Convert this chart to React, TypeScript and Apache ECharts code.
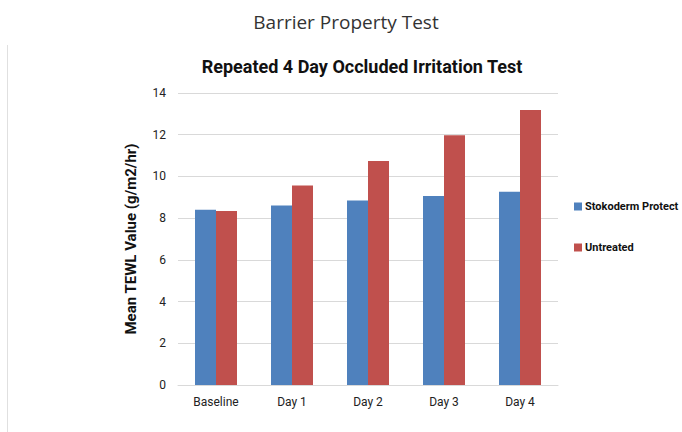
import React, { useEffect, useRef } from "react";
import * as echarts from "echarts";

const categories = ["Baseline", "Day 1", "Day 2", "Day 3", "Day 4"];
const stokoderm = [8.4, 8.61, 8.85, 9.06, 9.27];
const untreated = [8.34, 9.57, 10.74, 11.97, 13.19];
const seriesNames = ["Stokoderm Protect", "Untreated"];

const FONT = "Roboto";

export default function App() {
  const ref = useRef<HTMLDivElement>(null);
  useEffect(() => {
    if (!ref.current) return;
    const chart = echarts.init(ref.current, null, { renderer: "svg" });
    chart.setOption({
      animation: false,
      backgroundColor: "#ffffff",
      title: [
        {
          text: "Barrier Property Test",
          left: 341,
          top: 7,
          textAlign: "center",
          textStyle: { fontFamily: "Open Sans", fontSize: 19, fontWeight: "normal", color: "#333" },
        },
        {
          text: "Repeated 4 Day Occluded Irritation Test",
          left: 357,
          top: 52,
          textAlign: "center",
          textStyle: { fontFamily: FONT, fontSize: 18, fontWeight: "bold", color: "#111" },
        },
      ],
      graphic: [
        {
          type: "line",
          shape: { x1: 7.5, y1: 45, x2: 7.5, y2: 432 },
          style: { stroke: "#e0e0e0", lineWidth: 1 },
        },
      ],
      legend: {
        orient: "vertical",
        left: 569,
        top: 196,
        itemWidth: 8,
        itemHeight: 8,
        itemGap: 30,
        icon: "rect",
        textStyle: { fontFamily: FONT, fontSize: 11, fontWeight: "bold", color: "#111", padding: [0, 0, 0, -2] },
        data: seriesNames,
      },
      grid: { left: 178, right: 124, top: 93, bottom: 47 },
      xAxis: {
        type: "category",
        data: categories,
        axisLine: { lineStyle: { color: "#d9d9d9" } },
        axisTick: { show: false },
        axisLabel: { fontFamily: FONT, fontSize: 12, color: "#222", margin: 11 },
      },
      yAxis: {
        type: "value",
        min: 0,
        max: 14,
        interval: 2,
        name: "Mean TEWL Value (g/m2/hr)",
        nameLocation: "middle",
        nameGap: 40,
        nameTextStyle: { fontFamily: FONT, fontSize: 15, fontWeight: "bold", color: "#111" },
        axisLine: { show: false },
        axisTick: { show: false },
        splitLine: { lineStyle: { color: "#d9d9d9" } },
        axisLabel: { fontFamily: FONT, fontSize: 12, color: "#222", margin: 12 },
      },
      series: [
        {
          name: seriesNames[0],
          type: "bar",
          data: stokoderm,
          barWidth: 21,
          barGap: "0%",
          itemStyle: { color: "#4F81BD" },
        },
        {
          name: seriesNames[1],
          type: "bar",
          data: untreated,
          barWidth: 21,
          barGap: "0%",
          itemStyle: { color: "#C0504D" },
        },
      ],
    });
    return () => chart.dispose();
  }, []);
  return <div ref={ref} style={{ position: "fixed", left: 0, top: 0, width: 682, height: 432 }} />;
}
